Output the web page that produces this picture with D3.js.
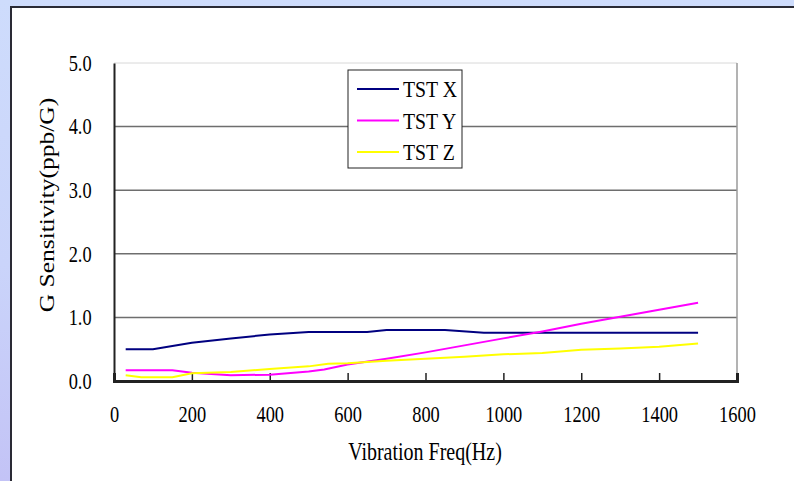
<!DOCTYPE html>
<html>
<head>
<meta charset="utf-8">
<script src="https://cdn.jsdelivr.net/npm/d3@7"></script>
<style>
  html, body { margin: 0; padding: 0; background: #fff; }
  svg { display: block; }
  text { font-family: "Liberation Serif", "DejaVu Serif", serif; fill: #000; }
</style>
</head>
<body>
<svg id="chart" width="794" height="481"></svg>
<script>
// data
const freqX = [30, 100, 200, 300, 400, 500, 650, 700, 850, 950, 1500];
const valX  = [0.5, 0.5, 0.6, 0.67, 0.73, 0.77, 0.77, 0.8, 0.8, 0.76, 0.76];

const freqY = [30, 150, 200, 300, 400, 500, 540, 600, 700, 800, 900, 1000, 1100, 1200, 1300, 1400, 1500];
const valY  = [0.17, 0.17, 0.13, 0.09, 0.1, 0.15, 0.18, 0.26, 0.35, 0.45, 0.56, 0.67, 0.78, 0.9, 1.01, 1.12, 1.23];

const freqZ = [30, 70, 150, 200, 300, 400, 500, 550, 600, 700, 800, 900, 1000, 1100, 1200, 1300, 1400, 1500];
const valZ  = [0.09, 0.06, 0.06, 0.12, 0.14, 0.19, 0.23, 0.27, 0.28, 0.32, 0.35, 0.38, 0.42, 0.44, 0.49, 0.51, 0.54, 0.59];

const seriesNames = ["TST X", "TST Y", "TST Z"];
const seriesColors = ["#000080", "#ff00ff", "#ffff00"];
const xTicks = [0, 200, 400, 600, 800, 1000, 1200, 1400, 1600];
const yTicks = [0, 1, 2, 3, 4, 5];

const series = [
  freqX.map((f, i) => [f, valX[i]]),
  freqY.map((f, i) => [f, valY[i]]),
  freqZ.map((f, i) => [f, valZ[i]])
];

// the original picture is squeezed sideways, so text is narrowed too
const squeeze = "scale(0.8,1)";

const svg = d3.select("#chart");

// slide background
const grad = svg.append("defs").append("linearGradient")
  .attr("id", "bg").attr("x1", 0).attr("y1", 0).attr("x2", 0).attr("y2", 1);
grad.append("stop").attr("offset", "0%").attr("stop-color", "#cedcfc");
grad.append("stop").attr("offset", "55%").attr("stop-color", "#cad4fa");
grad.append("stop").attr("offset", "100%").attr("stop-color", "#c3c3f6");
svg.append("rect").attr("width", 794).attr("height", 481).attr("fill", "url(#bg)");
svg.append("rect").attr("x", 11).attr("y", 7).attr("width", 790).attr("height", 480)
  .attr("fill", "#fff").attr("stroke", "#2a2a35").attr("stroke-width", 2);

const x = d3.scaleLinear().domain([0, 1600]).range([114, 737]);
const y = d3.scaleLinear().domain([0, 5]).range([381, 63]);

// gridlines
svg.append("g").selectAll("line").data(yTicks.filter(d => d > 0)).join("line")
  .attr("x1", x(0)).attr("x2", x(1600))
  .attr("y1", d => y(d)).attr("y2", d => y(d))
  .attr("stroke", d => d === 5 ? "#d8d8d8" : "#6e6e6e").attr("stroke-width", d => d === 5 ? 1 : 1.5);

// right border of plot area
svg.append("line").attr("x1", x(1600)).attr("x2", x(1600)).attr("y1", y(5)).attr("y2", y(0))
  .attr("stroke", "#9a9a9a").attr("stroke-width", 1.5);

// x axis
const xAxis = svg.append("g").attr("transform", `translate(0,${y(0)})`)
  .call(d3.axisBottom(x).tickValues(xTicks).tickSize(-8).tickPadding(25).tickFormat(d3.format("d")));
xAxis.select(".domain").attr("stroke", "#222").attr("stroke-width", 3);
xAxis.selectAll(".tick line").attr("stroke", "#222").attr("stroke-width", 1.5);
xAxis.selectAll("text").attr("font-size", 23).attr("font-family", "Liberation Serif")
  .attr("transform", squeeze);

// y axis
const yAxis = svg.append("g").attr("transform", `translate(${x(0)},0)`)
  .call(d3.axisLeft(y).tickValues(yTicks).tickSize(0).tickPadding(28).tickFormat(d3.format(".1f")));
yAxis.select(".domain").attr("stroke", "#222").attr("stroke-width", 2);
yAxis.selectAll("text").attr("font-size", 23).attr("font-family", "Liberation Serif")
  .attr("transform", squeeze);

// lines
const line = d3.line().x(d => x(d[0])).y(d => y(d[1]));
svg.append("g").selectAll("path").data(series).join("path")
  .attr("d", line)
  .attr("fill", "none")
  .attr("stroke", (d, i) => seriesColors[i])
  .attr("stroke-width", 2);

// axis titles
svg.append("text").attr("transform", `translate(425,460) ${squeeze}`).attr("text-anchor", "middle")
  .attr("font-size", 25).text("Vibration Freq(Hz)");
svg.append("text").attr("transform", `translate(54,205) ${squeeze} rotate(-90)`).attr("text-anchor", "middle")
  .attr("font-size", 25.5).text("G Sensitivity(ppb/G)");

// legend
const legend = svg.append("g");
legend.append("rect").attr("x", 348).attr("y", 70).attr("width", 114).attr("height", 98)
  .attr("fill", "#fff").attr("stroke", "#222").attr("stroke-width", 1);
const items = legend.selectAll("g.item").data(seriesNames).join("g")
  .attr("class", "item")
  .attr("transform", (d, i) => `translate(0,${89 + i * 31.5})`);
items.append("line").attr("x1", 357).attr("x2", 399).attr("y1", 0).attr("y2", 0)
  .attr("stroke", (d, i) => seriesColors[i]).attr("stroke-width", 2);
items.append("text").attr("transform", `translate(403,8) scale(0.86,1)`).attr("font-size", 23).text(d => d);
</script>
</body>
</html>
